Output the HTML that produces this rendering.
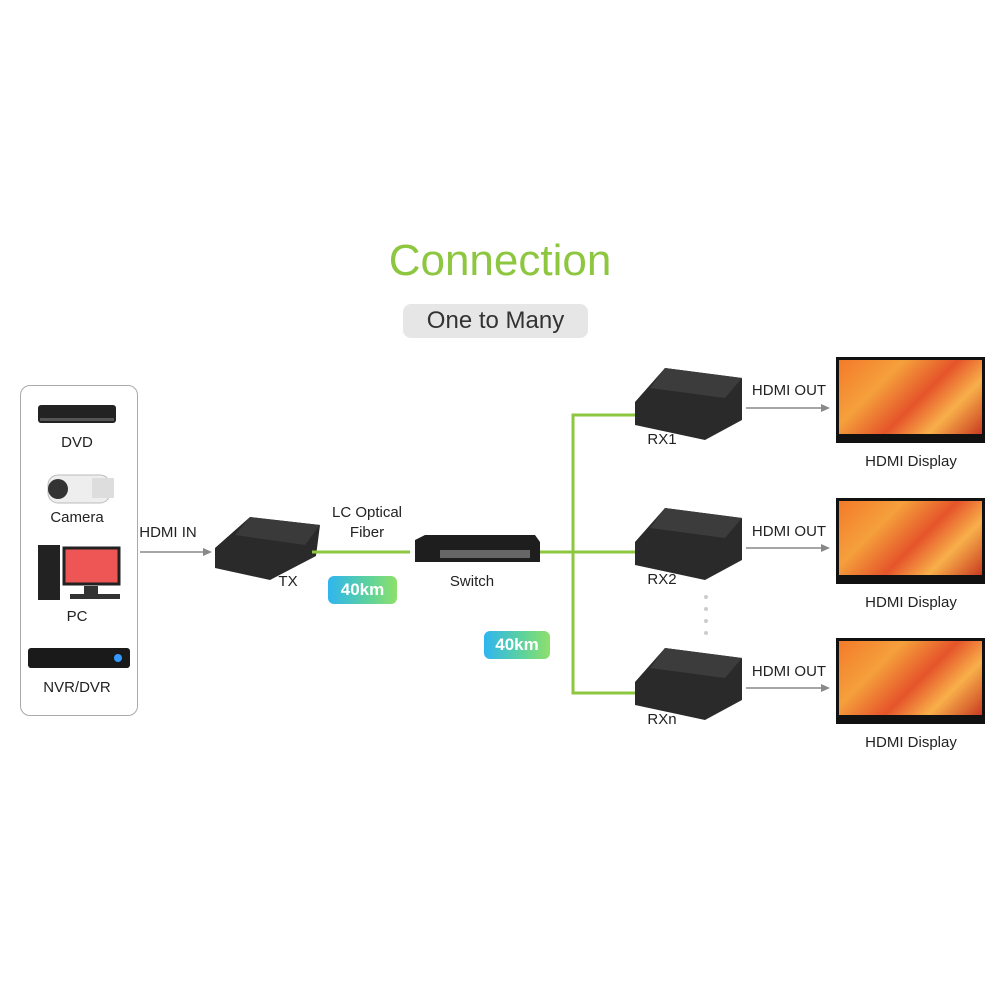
<!DOCTYPE html>
<html><head><style>
body{margin:0;width:1000px;height:1000px;background:#fff;position:relative;font-family:"Liberation Sans",sans-serif;overflow:hidden}
.t{position:absolute;font-size:15px;color:#222;white-space:nowrap;transform:translateX(-50%)}
.ab{position:absolute}
.badge{position:absolute;color:#fff;font-weight:bold;font-size:17px;text-align:center;border-radius:6px;background:linear-gradient(90deg,#2fb5f0,#5fd39a 60%,#8ee06a)}
.tv{position:absolute;width:149px;height:80px;background:linear-gradient(135deg,#f37a2a,#f5a03c 30%,#e5542a 55%,#f8b04a 75%,#c83a20);border:3px solid #111;box-sizing:border-box}
.tvs{position:absolute;width:149px;height:6px;background:#111}
.rx{position:absolute;width:105px;height:60px}
</style></head><body>
<div class="t" style="left:500px;top:236px;font-size:44px;color:#8dc63f">Connection</div>
<div class="ab" style="left:403px;top:304px;width:185px;height:34px;background:#e6e6e6;border-radius:8px;text-align:center;font-size:24px;line-height:34px;color:#333">One to Many</div>

<div class="ab" style="left:20px;top:385px;width:116px;height:329px;border:1.5px solid #aaa;border-radius:10px"></div>
<svg class="ab" style="left:0;top:0" width="1000" height="1000">
<!-- DVD -->
<rect x="38" y="405" width="78" height="18" rx="3" fill="#222"/><rect x="40" y="418" width="74" height="3" fill="#555"/>
<!-- camera -->
<rect x="48" y="475" width="62" height="28" rx="10" fill="#eee" stroke="#bbb"/><circle cx="58" cy="489" r="10" fill="#333"/><rect x="92" y="478" width="22" height="20" fill="#ddd"/>
<!-- PC -->
<rect x="38" y="545" width="22" height="55" fill="#222"/><rect x="64" y="548" width="55" height="36" fill="#e55" stroke="#222" stroke-width="3"/><rect x="84" y="586" width="14" height="8" fill="#333"/><rect x="70" y="594" width="50" height="5" fill="#333"/>
<!-- NVR -->
<rect x="28" y="648" width="102" height="20" rx="3" fill="#1a1a1a"/><circle cx="118" cy="658" r="4" fill="#39f"/>
<!-- arrows left -->
<line x1="140" y1="552" x2="204" y2="552" stroke="#888" stroke-width="1.5"/><polygon points="212,552 203,548 203,556" fill="#888"/>
<!-- TX -->
<polygon points="215,548 250,517 320,525 316,556 270,580 215,568" fill="#2a2a2a"/><polygon points="250,517 320,525 305,545 235,535" fill="#3a3a3a"/>
<!-- green -->
<g stroke="#8dc63f" stroke-width="3" fill="none">
<line x1="312" y1="552" x2="410" y2="552"/><line x1="538" y1="552" x2="573" y2="552"/>
<polyline points="640,415 573,415 573,693 640,693"/><line x1="573" y1="552" x2="640" y2="552"/>
</g>
<!-- switch -->
<polygon points="415,540 425,535 535,535 540,542 540,562 415,562" fill="#1e1e1e"/><rect x="440" y="550" width="90" height="8" fill="#666"/>
<!-- RX -->
<g fill="#2a2a2a">
<polygon points="635,402 665,368 742,378 742,420 705,440 635,425"/>
<polygon points="635,542 665,508 742,518 742,560 705,580 635,565"/>
<polygon points="635,682 665,648 742,658 742,700 705,720 635,705"/>
</g>
<g fill="#3c3c3c"><polygon points="665,368 742,378 725,398 650,388"/><polygon points="665,508 742,518 725,538 650,528"/><polygon points="665,648 742,658 725,678 650,668"/></g>
<g fill="#ccc"><circle cx="706" cy="597" r="2"/><circle cx="706" cy="609" r="2"/><circle cx="706" cy="621" r="2"/><circle cx="706" cy="633" r="2"/></g>
<g stroke="#888" stroke-width="1.5"><line x1="746" y1="408" x2="822" y2="408"/><line x1="746" y1="548" x2="822" y2="548"/><line x1="746" y1="688" x2="822" y2="688"/></g>
<g fill="#888"><polygon points="830,408 821,404 821,412"/><polygon points="830,548 821,544 821,552"/><polygon points="830,688 821,684 821,692"/></g>
</svg>
<div class="t" style="left:77px;top:434px">DVD</div>
<div class="t" style="left:77px;top:509px">Camera</div>
<div class="t" style="left:77px;top:608px">PC</div>
<div class="t" style="left:77px;top:679px">NVR/DVR</div>
<div class="t" style="left:168px;top:524px">HDMI IN</div>
<div class="t" style="left:288px;top:573px">TX</div>
<div class="t" style="left:367px;top:504px">LC Optical</div>
<div class="t" style="left:367px;top:524px">Fiber</div>
<div class="t" style="left:472px;top:573px">Switch</div>
<div class="badge" style="left:328px;top:576px;width:69px;height:28px;line-height:28px">40km</div>
<div class="badge" style="left:484px;top:631px;width:66px;height:28px;line-height:28px">40km</div>
<div class="t" style="left:662px;top:431px">RX1</div>
<div class="t" style="left:662px;top:571px">RX2</div>
<div class="t" style="left:662px;top:711px">RXn</div>
<div class="t" style="left:789px;top:382px">HDMI OUT</div>
<div class="t" style="left:789px;top:523px">HDMI OUT</div>
<div class="t" style="left:789px;top:663px">HDMI OUT</div>
<div class="tv" style="left:836px;top:357px"></div><div class="tvs" style="left:836px;top:437px"></div>
<div class="tv" style="left:836px;top:498px"></div><div class="tvs" style="left:836px;top:578px"></div>
<div class="tv" style="left:836px;top:638px"></div><div class="tvs" style="left:836px;top:718px"></div>
<div class="t" style="left:911px;top:453px">HDMI Display</div>
<div class="t" style="left:911px;top:594px">HDMI Display</div>
<div class="t" style="left:911px;top:734px">HDMI Display</div>
</body></html>
